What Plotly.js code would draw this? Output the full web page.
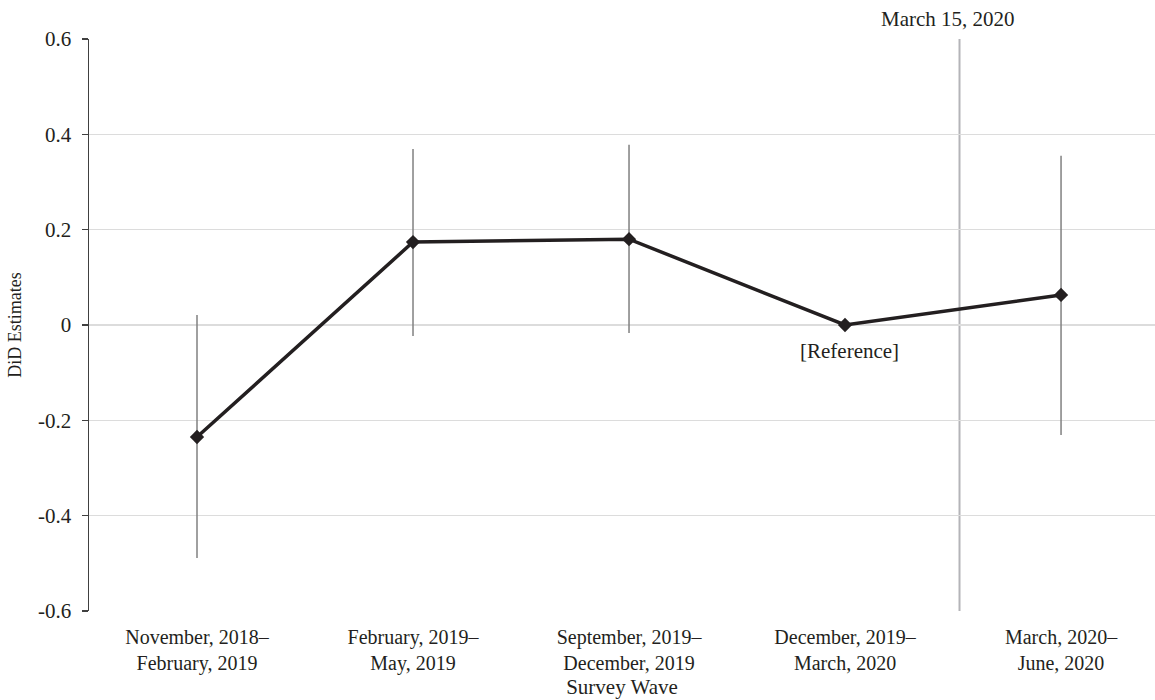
<!DOCTYPE html>
<html>
<head>
<meta charset="utf-8">
<script src="https://cdn.plot.ly/plotly-3.0.1.min.js"></script>
<style>html,body{margin:0;padding:0;background:#fff;}#chart{width:1155px;height:700px;}</style>
</head>
<body>
<div id="chart"></div>
<script>
const waveLabels = [
  "November, 2018–<br>February, 2019",
  "February, 2019–<br>May, 2019",
  "September, 2019–<br>December, 2019",
  "December, 2019–<br>March, 2020",
  "March, 2020–<br>June, 2020"
];
const waveIndex = [0, 1, 2, 3, 4];
const estimates = [-0.235, 0.174, 0.180, 0.0, 0.063];
const upperCI = [0.021, 0.369, 0.378, 0.0, 0.355];
const lowerCI = [-0.489, -0.023, -0.017, 0.0, -0.231];
const yTickVals = [0.6, 0.4, 0.2, 0, -0.2, -0.4, -0.6];
const yTickText = ["0.6", "0.4", "0.2", "0", "-0.2", "-0.4", "-0.6"];
const eventPosition = 3.53;
const eventLabel = "March 15, 2020";
const referenceLabel = "[Reference]";
const referenceIndex = 3;

const errPlus = estimates.map((v, i) => upperCI[i] - v);
const errMinus = estimates.map((v, i) => v - lowerCI[i]);

const font = "Liberation Serif, Times New Roman, serif";
const txt = "#231f20";

const trace = {
  x: waveIndex,
  y: estimates,
  type: "scatter",
  mode: "lines+markers",
  line: {color: txt, width: 3.5},
  marker: {symbol: "diamond", size: 11, color: txt},
  error_y: {
    type: "data",
    symmetric: false,
    array: errPlus,
    arrayminus: errMinus,
    color: "#808080",
    thickness: 1.5,
    width: 0
  },
  showlegend: false,
  hoverinfo: "none"
};

const layout = {
  width: 1155,
  height: 700,
  margin: {l: 89, r: 0, t: 39, b: 89},
  paper_bgcolor: "#ffffff",
  plot_bgcolor: "#ffffff",
  font: {family: font, size: 21, color: txt},
  xaxis: {
    range: [-0.5, 4.435],
    tickvals: waveIndex,
    ticktext: waveLabels,
    showgrid: false,
    zeroline: false,
    showline: false,
    ticks: "",
    ticklabelstandoff: 12,
    tickfont: {family: font, size: 20, color: txt},
    title: {text: "Survey Wave", font: {family: font, size: 21, color: txt}, standoff: 5}
  },
  yaxis: {
    range: [-0.6, 0.6],
    tickvals: yTickVals,
    ticktext: yTickText,
    showgrid: true,
    gridcolor: "#dcdcdc",
    gridwidth: 1.2,
    zeroline: false,
    showline: true,
    linecolor: "#404040",
    linewidth: 1.5,
    ticks: "outside",
    ticklen: 6,
    tickcolor: "#404040",
    tickwidth: 1.5,
    ticklabelstandoff: 6,
    tickfont: {family: font, size: 21, color: txt},
    title: {text: "DiD Estimates", font: {family: font, size: 18, color: txt}, standoff: 11}
  },
  shapes: [{
    type: "line",
    xref: "x", yref: "paper",
    x0: eventPosition, x1: eventPosition,
    y0: 0, y1: 1,
    line: {color: "#b4b4b8", width: 2},
    layer: "below"
  }],
  annotations: [
    {
      x: eventPosition, y: 1, xref: "x", yref: "paper",
      yanchor: "bottom", xanchor: "center", xshift: -12, yshift: 6,
      text: eventLabel, showarrow: false,
      font: {family: font, size: 21, color: txt}
    },
    {
      x: referenceIndex, y: estimates[referenceIndex], xref: "x", yref: "y",
      yanchor: "top", xanchor: "center", xshift: 4, yshift: -12,
      text: referenceLabel, showarrow: false,
      font: {family: font, size: 21, color: txt}
    }
  ]
};

Plotly.newPlot("chart", [trace], layout, {displayModeBar: false, staticPlot: true});
</script>
</body>
</html>
